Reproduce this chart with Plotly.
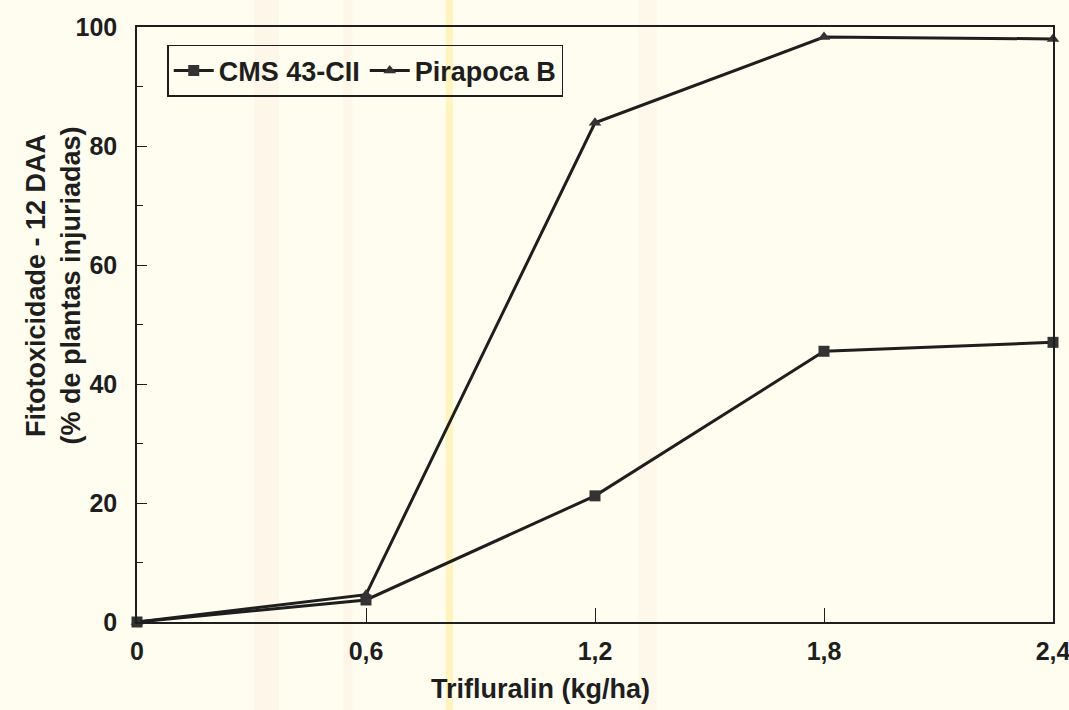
import plotly.graph_objects as go

dose = [0, 0.6, 1.2, 1.8, 2.4]
dose_labels = ["0", "0,6", "1,2", "1,8", "2,4"]
cms_43_cii = [0, 3.7, 21.2, 45.5, 47.0]
pirapoca_b = [0, 4.6, 83.9, 98.3, 98.0]
y_ticks = [0, 20, 40, 60, 80, 100]

font = "Liberation Sans, Arial, sans-serif"
ink = "#1e1e1e"
paper = "#fffdef"

fig = go.Figure()
fig.add_trace(
    go.Scatter(
        x=dose,
        y=cms_43_cii,
        mode="lines+markers",
        name="CMS 43-CII",
        line={"color": ink, "width": 3},
        marker={"symbol": "square", "size": 11, "color": "#333"},
        cliponaxis=False,
    )
)
fig.add_trace(
    go.Scatter(
        x=dose,
        y=pirapoca_b,
        mode="lines+markers",
        name="Pirapoca B",
        line={"color": ink, "width": 3},
        marker={"symbol": "triangle-up", "size": 11, "color": "#333"},
        cliponaxis=False,
    )
)

# faint scan stripes on the paper
for x0, x1, color in [(0.128, 0.155, "rgba(250,205,190,0.12)"),
                      (0.225, 0.235, "rgba(250,205,190,0.12)"),
                      (0.337, 0.345, "rgba(255,230,120,0.4)"),
                      (0.547, 0.568, "rgba(250,210,200,0.1)")]:
    fig.add_shape(type="rect", xref="paper", yref="paper", x0=x0, x1=x1, y0=-0.2, y1=1.1,
                  fillcolor=color, line={"width": 0}, layer="below")

fig.add_annotation(
    text="<b>Trifluralin (kg/ha)</b>",
    xref="paper", yref="paper", x=0.44, y=-0.113,
    xanchor="center", yanchor="middle", showarrow=False,
    font={"size": 27},
)
fig.add_annotation(
    text="<b>Fitotoxicidade - 12 DAA<br>(% de plantas injuriadas)</b>",
    xref="paper", yref="paper", x=-0.091, y=0.565,
    xanchor="center", yanchor="middle", showarrow=False,
    textangle=-90, font={"size": 27},
)

fig.update_layout(
    width=1069,
    height=710,
    paper_bgcolor=paper,
    plot_bgcolor="rgba(0,0,0,0)",
    margin={"l": 137, "r": 16, "t": 27, "b": 88},
    font={"family": font, "color": ink, "size": 26},
    showlegend=True,
    legend={
        "orientation": "h",
        "x": 0.033,
        "y": 0.97,
        "xanchor": "left",
        "yanchor": "top",
        "bgcolor": "rgba(0,0,0,0)",
        "bordercolor": ink,
        "borderwidth": 1.5,
        "font": {"size": 27, "weight": "bold"},
        "itemwidth": 40,
        "tracegroupgap": 0,
    },
    xaxis={
        "range": [0, 2.4],
        "tickvals": dose,
        "ticktext": dose_labels,
        "ticks": "inside",
        "ticklen": 14,
        "tickwidth": 1,
        "tickcolor": ink,
        "showline": True,
        "linecolor": ink,
        "linewidth": 1.5,
        "mirror": True,
        "showgrid": False,
        "zeroline": False,
        "automargin": False,
        "ticklabeloverflow": "allow",
        "ticklabelstandoff": 6,
        "tickfont": {"size": 25, "weight": "bold"},
    },
    yaxis={
        "range": [0, 100],
        "tickvals": y_ticks,
        "ticks": "inside",
        "ticklen": 10,
        "tickwidth": 1,
        "tickcolor": ink,
        "minor": {"dtick": 10, "ticks": "inside", "ticklen": 6, "tickcolor": ink},
        "showline": True,
        "linecolor": ink,
        "linewidth": 1.5,
        "mirror": True,
        "showgrid": False,
        "zeroline": False,
        "automargin": False,
        "ticklabeloverflow": "allow",
        "ticklabelstandoff": 13,
        "tickfont": {"size": 25, "weight": "bold"},
    },
)

fig.write_html(
    "out.html",
    config={"displayModeBar": False},
    post_script=f"document.body.style.margin='0';document.body.style.background='{paper}';",
)
